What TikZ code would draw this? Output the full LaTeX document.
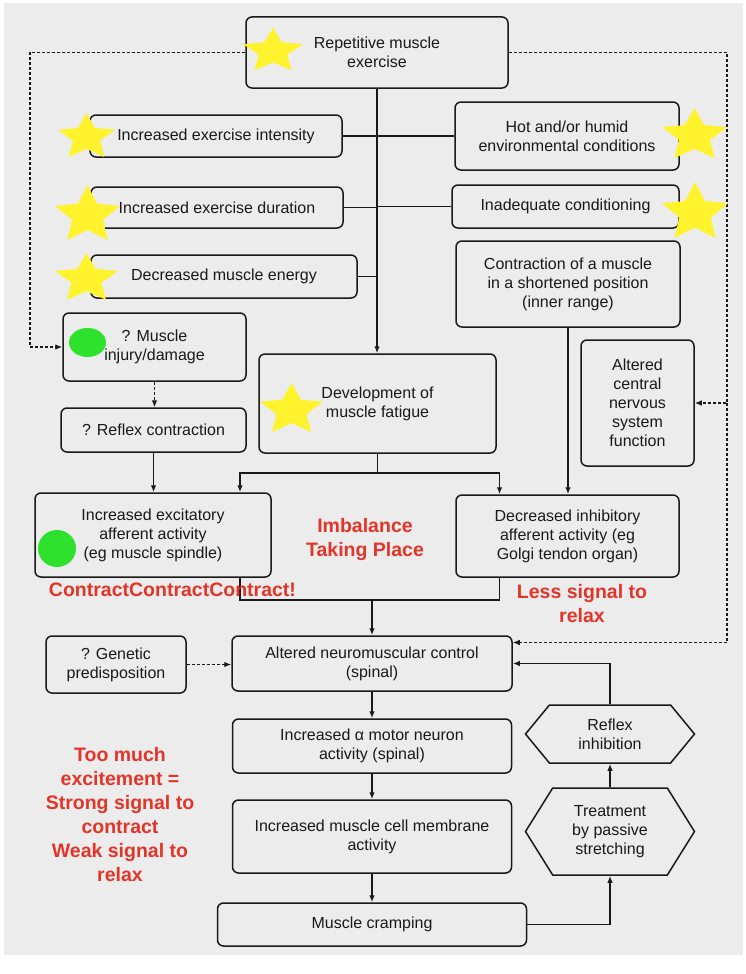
\documentclass[tikz,border=0pt]{standalone}
\usepackage{fontspec}
\setmainfont{Liberation Sans}
\usetikzlibrary{shapes.geometric, shapes.symbols, arrows.meta}
\definecolor{paper}{RGB}{236, 236, 236}
\definecolor{ink}{RGB}{25, 25, 25}
\definecolor{note}{RGB}{226, 52, 40}
\definecolor{sun}{RGB}{255, 243, 45}
\definecolor{leaf}{RGB}{45, 225, 45}

\begin{document}
\begin{tikzpicture}[x=1pt, y=-1pt, line width=1.5pt, ink,
    box/.style={draw=ink, fill=paper, rounded corners=6pt, align=center,
      inner sep=0pt, text=ink, font=\fontsize{16}{19}\selectfont},
    hexbox/.style={box, sharp corners, signal, signal to=west and east},
    arr/.style={-{Latex[length=7pt, width=5.5pt]}},
    dasharr/.style={arr, line width=1.2pt, dash pattern=on 3pt off 2pt},
    remark/.style={text=note, align=center, font=\bfseries\fontsize{19.5}{24}\selectfont},
    yellowstar/.style={star, star points=5, star point ratio=2.1, fill=sun,
      minimum size=#1, inner sep=0pt, transform shape},
    greendot/.style={ellipse, fill=leaf, inner sep=0pt}]
  \useasboundingbox (0,0) rectangle (746,974);
  \fill[white] (0,0) rectangle (746,974);
  \fill[paper] (4,3) rectangle (743,955);

  \node[box, minimum width=262, minimum height=71] (rep) at (377,52.5) {Repetitive muscle\\exercise};
  \node[box, minimum width=252, minimum height=42] (intens) at (216,136) {Increased exercise intensity};
  \node[box, minimum width=252, minimum height=41] (durat) at (217,207.5) {Increased exercise duration};
  \node[box, minimum width=266, minimum height=43] (energy) at (224,276.5) {Decreased muscle energy};
  \node[box, minimum width=224, minimum height=68] (humid) at (567,136) {Hot and/or humid\\environmental conditions};
  \node[box, minimum width=227, minimum height=43] (condit) at (565.5,206.5) {Inadequate conditioning};
  \node[box, minimum width=224, minimum height=86] (inner) at (568,284) {Contraction of a muscle\\in a shortened position\\(inner range)};
  \node[box, minimum width=183, minimum height=68] (injury) at (154.5,347) {? Muscle\\injury/damage};
  \node[box, minimum width=185, minimum height=44] (reflexc) at (153.5,430) {? Reflex contraction};
  \node[box, minimum width=237, minimum height=99] (fatigue) at (377.5,403.5) {Development of\\muscle fatigue};
  \node[box, minimum width=113, minimum height=126] (cns) at (637.5,403) {Altered\\central\\nervous\\system\\function};
  \node[box, minimum width=236, minimum height=84] (excit) at (153,535) {Increased excitatory\\afferent activity\\(eg muscle spindle)};
  \node[box, minimum width=223, minimum height=82] (inhib) at (567.5,536) {Decreased inhibitory\\afferent activity (eg\\Golgi tendon organ)};
  \node[box, minimum width=140, minimum height=57] (genetic) at (116,664.5) {? Genetic\\predisposition};
  \node[box, minimum width=280, minimum height=55] (neuro) at (372,663.5) {Altered neuromuscular control\\(spinal)};
  \node[box, minimum width=279, minimum height=54] (alpha) at (372,746) {Increased α motor neuron\\activity (spinal)};
  \node[box, minimum width=279, minimum height=73] (membr) at (372,836.5) {Increased muscle cell membrane\\activity};
  \node[box, minimum width=309, minimum height=43] (cramp) at (372,924.5) {Muscle cramping};
  \node[hexbox, minimum width=169, minimum height=58, signal pointer angle=101] (reflexinh) at (610,734) {Reflex\\inhibition};
  \node[hexbox, minimum width=169, minimum height=87, signal pointer angle=116] (treat) at (610,831.5) {Treatment\\by passive\\stretching};

  % main chain
  \draw[arr] (rep.south) -- (rep.south |- fatigue.north);
  \foreach \src in {intens, durat, energy}
    \draw (\src.east) -- (\src.east -| rep.south);
  \foreach \src in {humid, condit}
    \draw (\src.west) -- (\src.west -| rep.south);
  \draw (fatigue.south) -- ++(0,19) coordinate (split);
  \draw[arr] (split) -| ([xshift=87pt]excit.north);
  \draw[arr] (split) -| ([xshift=-68pt]inhib.north);
  \draw[arr] (inner.south) -- (inner.south |- inhib.north);
  \draw[dasharr] (injury.south) -- (injury.south |- reflexc.north);
  \draw[arr] (reflexc.south) -- (reflexc.south |- excit.north);
  \coordinate (merge) at (372,600);
  \draw ([xshift=87pt]excit.south) |- (merge);
  \draw ([xshift=-68pt]inhib.south) |- (merge);
  \draw[arr] (merge) -- (neuro.north);
  \draw[arr] (neuro.south) -- (alpha.north);
  \draw[arr] (alpha.south) -- (membr.north);
  \draw[arr] (membr.south) -- (cramp.north);
  \draw[arr] (cramp.east) -| (treat.south);
  \draw[arr] (treat.north) -- (reflexinh.south);
  \draw[arr] (reflexinh.north) |- (neuro.east);

  % dashed links
  \coordinate (lturn) at (30,347);
  \coordinate (rturn) at (727,403);
  \draw[dasharr] (rep.west) -| (lturn) -- (injury.west);
  \draw[dasharr] (rep.east) -| (rturn) -- (cns.east);
  \draw[dasharr] (rturn) |- ([yshift=21pt]neuro.east);
  \draw[dasharr] (genetic.east) -- (genetic.east -| neuro.west);

  \node[remark] (imbal) at (365,539) {Imbalance\\Taking Place};
  \node[remark] (contr) at (172.5,590) {ContractContractContract!};
  \node[remark] (lesssig) at (582,604) {Less signal to\\relax};
  \node[remark] (toomuch) at (120,815) {Too much\\excitement =\\Strong signal to\\contract\\Weak signal to\\relax};

  \foreach \sx/\sy/\sr/\sq [count=\i] in {273/51.3/31.5/0.74, 86.5/137.3/30/0.81,
      87.5/215.4/34.2/0.89, 86.5/278.9/33.1/0.78, 694.5/135.7/34.2/0.81,
      695/212.9/34.7/0.89, 291.5/410.1/33.1/0.82} {
    \begin{scope}[shift={(\sx,\sy)}, yscale=\sq]
      \node[yellowstar=2*\sr] (star\i) at (0,0) {};
    \end{scope}
  }
  \node[greendot, minimum width=37, minimum height=29] (dot1) at (87.5,342.5) {};
  \node[greendot, minimum width=38, minimum height=37] (dot2) at (57,548.5) {};
\end{tikzpicture}
\end{document}
